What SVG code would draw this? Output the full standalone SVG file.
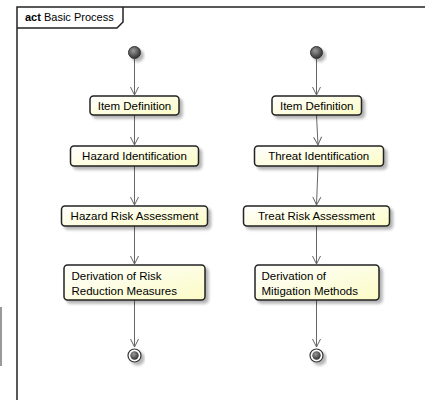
<svg xmlns="http://www.w3.org/2000/svg" width="425" height="400" viewBox="0 0 425 400">
<style>
text{font-family:"Liberation Sans",Arial,sans-serif;font-size:11.5px;fill:#000}
.box{fill:url(#boxg);stroke:#222;stroke-width:1.5}
.edge{stroke:#666;stroke-width:1;fill:none}
.frame{fill:none;stroke:#222;stroke-width:1.5}
</style>
<defs>
<linearGradient id="boxg" x1="0" y1="0" x2="1" y2="1">
<stop offset="0" stop-color="#ffffff"/>
<stop offset="1" stop-color="#fbfbc6"/>
</linearGradient>
<radialGradient id="startg" cx="0.4" cy="0.35" r="0.7">
<stop offset="0" stop-color="#9a9a9a"/>
<stop offset="1" stop-color="#2a2a2a"/>
</radialGradient>
<filter id="sh" x="-20%" y="-20%" width="150%" height="160%">
<feGaussianBlur in="SourceAlpha" stdDeviation="1.5"/>
<feOffset dx="3" dy="3" result="b"/>
<feComponentTransfer><feFuncA type="linear" slope="0.3"/></feComponentTransfer>
<feMerge><feMergeNode/><feMergeNode in="SourceGraphic"/></feMerge>
</filter>
<marker id="arr" markerWidth="12" markerHeight="12" refX="9" refY="5" orient="auto" markerUnits="userSpaceOnUse" viewBox="0 0 12 10">
<path d="M1,1 L9,5 L1,9" fill="none" stroke="#666" stroke-width="1"/>
</marker>
</defs>
<rect x="0" y="0" width="425" height="400" fill="#fff"/>
<rect x="0" y="307" width="2" height="59" fill="#999"/>
<g id="frame">
<path class="frame" d="M17,402 L17,7 L427,7"/>
<path class="frame" d="M17,28 L117,28 L123,22 L123,7"/>
<text x="25" y="21" style="font-size:11px"><tspan font-weight="bold">act</tspan> Basic Process</text>
</g>
<g id="connectors">
<line class="edge" x1="134.5" y1="59" x2="134.5" y2="95" marker-end="url(#arr)"/>
<line class="edge" x1="134.5" y1="115" x2="134.5" y2="145" marker-end="url(#arr)"/>
<line class="edge" x1="134.5" y1="166" x2="134.5" y2="205" marker-end="url(#arr)"/>
<line class="edge" x1="134.5" y1="226" x2="134.5" y2="264" marker-end="url(#arr)"/>
<line class="edge" x1="134.5" y1="300" x2="134.5" y2="347" marker-end="url(#arr)"/>
<line class="edge" x1="316.5" y1="59" x2="316.5" y2="95" marker-end="url(#arr)"/>
<line class="edge" x1="316.5" y1="115" x2="318" y2="145" marker-end="url(#arr)"/>
<line class="edge" x1="318" y1="166" x2="316.5" y2="205" marker-end="url(#arr)"/>
<line class="edge" x1="316.5" y1="226" x2="316.5" y2="264" marker-end="url(#arr)"/>
<line class="edge" x1="316.5" y1="300" x2="316.5" y2="347" marker-end="url(#arr)"/>
</g>
<g id="start1"><circle cx="134.5" cy="52.5" r="6" fill="url(#startg)" stroke="#333" stroke-width="1" filter="url(#sh)"/></g>
<g id="start2"><circle cx="316.5" cy="52.5" r="6" fill="url(#startg)" stroke="#333" stroke-width="1" filter="url(#sh)"/></g>
<g id="item1"><rect class="box" x="90" y="96" width="89" height="19" rx="3.5" filter="url(#sh)"/><text x="134.5" y="109.5" text-anchor="middle">Item Definition</text></g>
<g id="hazid"><rect class="box" x="70.5" y="146" width="128" height="20" rx="3.5" filter="url(#sh)"/><text x="134.5" y="160" text-anchor="middle">Hazard Identification</text></g>
<g id="hra"><rect class="box" x="61.5" y="206" width="146" height="20" rx="3.5" filter="url(#sh)"/><text x="134.5" y="220" text-anchor="middle">Hazard Risk Assessment</text></g>
<g id="deriv1"><rect class="box" x="64" y="265" width="141" height="35" rx="3.5" filter="url(#sh)"/><text x="71.5" y="280">Derivation of Risk</text><text x="71.5" y="294.5">Reduction Measures</text></g>
<g id="end1" filter="url(#sh)"><circle cx="134.5" cy="355.5" r="6.5" fill="#fff" stroke="#333" stroke-width="1.2"/><circle cx="134.5" cy="355.5" r="4.2" fill="url(#startg)"/></g>
<g id="item2"><rect class="box" x="272" y="96" width="89.5" height="19" rx="3.5" filter="url(#sh)"/><text x="316.7" y="109.5" text-anchor="middle">Item Definition</text></g>
<g id="thrid"><rect class="box" x="254.5" y="146" width="129" height="20" rx="3.5" filter="url(#sh)"/><text x="318.7" y="160" text-anchor="middle">Threat Identification</text></g>
<g id="tra"><rect class="box" x="243.5" y="206" width="146" height="20" rx="3.5" filter="url(#sh)"/><text x="316.5" y="220" text-anchor="middle">Treat Risk Assessment</text></g>
<g id="deriv2"><rect class="box" x="255" y="265" width="124" height="35" rx="3.5" filter="url(#sh)"/><text x="261.5" y="280">Derivation of</text><text x="261.5" y="294.5">Mitigation Methods</text></g>
<g id="end2" filter="url(#sh)"><circle cx="316.5" cy="355.5" r="6.5" fill="#fff" stroke="#333" stroke-width="1.2"/><circle cx="316.5" cy="355.5" r="4.2" fill="url(#startg)"/></g>
</svg>
